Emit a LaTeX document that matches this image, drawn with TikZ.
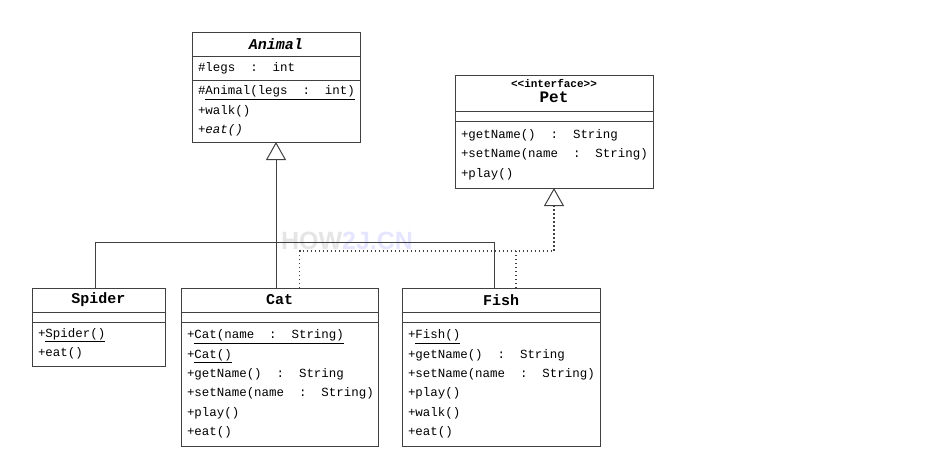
\documentclass[tikz,border=0pt]{standalone}
\usepackage{fontspec}
\newfontfamily\umlfont{Liberation Mono}
\newfontfamily\markfont{Liberation Sans}
\usetikzlibrary{positioning,arrows.meta}

% fixed-width spaces for the member lists
\newcommand\monospacing{\spaceskip=0.6em\relax\xspaceskip=0.6em\relax}

\tikzset{
  box/.style={draw=black!75, line width=1pt, inner sep=0pt, outer sep=0pt, minimum width=#1},
  title/.style={box=#1, font=\umlfont\bfseries\fontsize{15}{16}\selectfont, align=center},
  members/.style={draw=black!75, line width=1pt, outer sep=0pt, inner xsep=6pt, inner ysep=0pt,
    align=left, font=\umlfont\fontsize{12.45}{19.3}\selectfont, execute at begin node=\monospacing},
  link/.style={draw=black!75, line width=1pt},
  gen/.style={link, -{Triangle[open, length=18pt, width=20pt]}},
  dots/.style={link, line width=1.2pt, dash pattern=on 1.5pt off 2.5pt},
  real/.style={dots, -{Triangle[open, length=18pt, width=20pt, line width=1pt]}}
}

\begin{document}
\begin{tikzpicture}[x=1pt,y=-1pt]
  \useasboundingbox (0,0) rectangle (945,467);

  % Watermark
  \node[font=\markfont\bfseries\fontsize{25}{25}\selectfont] (mark) at (347,241)
    {\textcolor{black!10}{HOW}\textcolor{blue!10}{2J.CN}};

  % Animal
  \node[title=168pt, minimum height=24pt, anchor=north west] (animal-h) at (192,32) {\itshape Animal};
  \node[members, text width=156pt, minimum height=24pt, below=0pt of animal-h] (animal-a) {\#legs~~:~~int};
  \node[members, text width=156pt, minimum height=62pt, below=0pt of animal-a] (animal-o)
    {\#\underline{Animal(legs~~:~~int)}\\+walk()\\+\textit{eat()}};

  % Pet
  \node[title=198pt, minimum height=36pt, anchor=north west] (pet-h) at (455,75)
    {{\fontsize{11}{11}\selectfont <<interface>>}\\[-1pt]{\fontsize{16}{16}\selectfont Pet}\rule[-5pt]{0pt}{5pt}};
  \node[box=198pt, minimum height=10pt, below=0pt of pet-h] (pet-a) {};
  \node[members, text width=186pt, minimum height=67pt, below=0pt of pet-a] (pet-o)
    {+getName()~~:~~String\\+setName(name~~:~~String)\\+play()};

  % Spider
  \node[title=133pt, minimum height=24pt, anchor=north west] (spider-h) at (32,288) {Spider};
  \node[box=133pt, minimum height=10pt, below=0pt of spider-h] (spider-a) {};
  \node[members, text width=121pt, minimum height=44pt, below=0pt of spider-a] (spider-o)
    {+\underline{Spider()}\\+eat()};

  % Cat
  \node[title=197pt, minimum height=24pt, anchor=north west] (cat-h) at (181,288) {Cat};
  \node[box=197pt, minimum height=10pt, below=0pt of cat-h] (cat-a) {};
  \node[members, text width=185pt, minimum height=124pt, below=0pt of cat-a] (cat-o)
    {+\underline{Cat(name~~:~~String)}\\+\underline{Cat()}\\+getName()~~:~~String\\+setName(name~~:~~String)\\+play()\\+eat()};

  % Fish
  \node[title=198pt, minimum height=24pt, anchor=north west] (fish-h) at (402,288) {Fish};
  \node[box=198pt, minimum height=10pt, below=0pt of fish-h] (fish-a) {};
  \node[members, text width=186pt, minimum height=124pt, below=0pt of fish-a] (fish-o)
    {+\underline{Fish()}\\+getName()~~:~~String\\+setName(name~~:~~String)\\+play()\\+walk()\\+eat()};

  % Generalization
  \coordinate (bus) at (0,242);
  \draw[gen] ([xshift=-3.5pt]spider-h.north) |- (animal-o.south |- bus) -- (animal-o.south);
  \draw[link] ([xshift=-7pt]fish-h.north) |- (animal-o.south |- bus);
  \draw[link] (animal-o.south |- cat-h.north) -- (animal-o.south |- bus);

  % Realization
  \coordinate (rbus) at (0,251);
  \draw[real] ([xshift=20pt]cat-h.north) |- (pet-o.south |- rbus) -- (pet-o.south);
  \draw[dots] ([xshift=15pt]fish-h.north) -- ([xshift=15pt]fish-h.north |- rbus);
\end{tikzpicture}
\end{document}
